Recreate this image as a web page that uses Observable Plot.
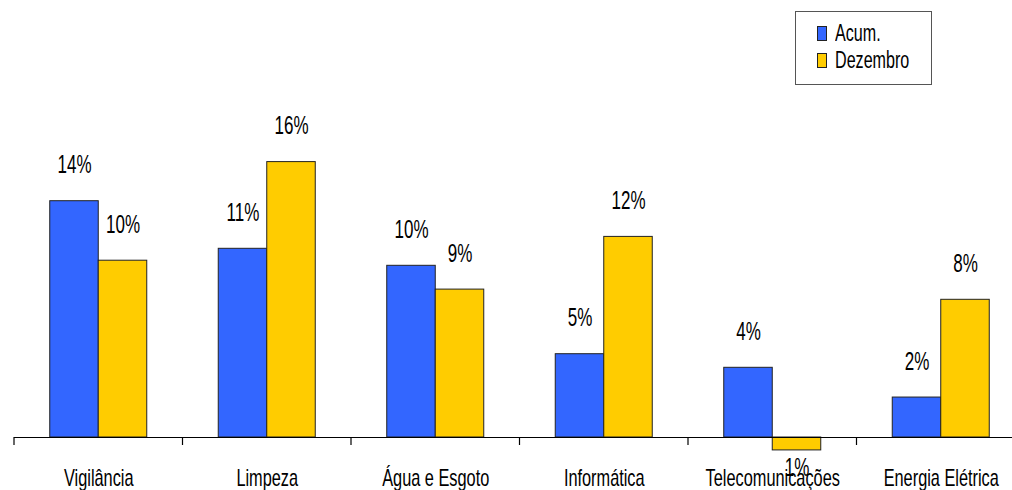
<!DOCTYPE html>
<html>
<head>
<meta charset="utf-8">
<script src="https://cdn.jsdelivr.net/npm/d3@7"></script>
<script src="https://cdn.jsdelivr.net/npm/@observablehq/plot@0.6"></script>
<style>
  body { margin: 0; background: #fff; }
  #wrap { position: relative; width: 1012px; height: 490px; font-family: "Liberation Sans", Arial, sans-serif; }
  #legend { position: absolute; left: 795px; top: 11px; width: 137px; height: 74px; border: 1px solid #555; background: #fff; box-sizing: border-box; }
  .item { position: absolute; left: 21px; height: 24px; display: flex; align-items: center; }
  .sw { width: 8px; height: 13px; border: 1px solid #222; margin-right: 8px; box-sizing: content-box; flex: none; }
  .lab { display: inline-block; font-size: 23px; line-height: 24px; color: #000; transform: scaleX(0.7); transform-origin: left center; white-space: nowrap; }
</style>
</head>
<body>
<div id="wrap"></div>
<script>
const categories = ["Vigilância", "Limpeza", "Água e Esgoto", "Informática", "Telecomunicações", "Energia Elétrica"];
const seriesNames = ["Acum.", "Dezembro"];
const acum = [13.9, 11.1, 10.1, 4.9, 4.1, 2.35];
const dezembro = [10.4, 16.2, 8.7, 11.8, -0.76, 8.1];
const colors = ["#3366FF", "#FFCC00"];

const data = [];
categories.forEach((c, i) => {
  data.push({category: c, series: seriesNames[0], value: acum[i]});
  data.push({category: c, series: seriesNames[1], value: dezembro[i]});
});
const fmt = v => Math.round(Math.abs(v)) + "%";
const font = "'Liberation Sans', Arial, sans-serif";

const plot = Plot.plot({
  width: 1012,
  height: 490,
  marginLeft: 14,
  marginRight: -13,
  marginTop: 12,
  marginBottom: 36,
  style: {fontFamily: font, background: "#fff", color: "#000"},
  fx: {domain: categories, padding: 0, label: null, round: false},
  x: {domain: seriesNames, paddingInner: 0, paddingOuter: 0.737, axis: null, round: false},
  y: {domain: [-1, 25], range: [454, 12], axis: null},
  color: {domain: seriesNames, range: colors},
  marks: [
    Plot.axisFx({anchor: "bottom", tickSize: 0, tickPadding: 14, fontSize: 24, label: null}),
    Plot.barY(data, {fx: "category", x: "series", y: "value", fill: "series", stroke: "#222", strokeWidth: 1}),
    Plot.ruleY([0], {stroke: "#000", strokeWidth: 1.2}),
    Plot.text(data.filter(d => d.value >= 0), {fx: "category", x: "series", y: "value", text: d => fmt(d.value), dy: -36, fontSize: 25, fill: "#000"}),
    Plot.text(data.filter(d => d.value < 0), {fx: "category", x: "series", y: "value", text: d => fmt(d.value), dy: 18, fontSize: 25, fill: "#000"})
  ]
});

// category boundary ticks below the baseline, placed through the plot's own scales
const fx = plot.scale("fx");
const y = plot.scale("y");
const y0 = y.apply(0);
const svg = d3.select(plot);
const g = svg.append("g").attr("stroke", "#000").attr("stroke-width", 1.2);
fx.domain.forEach(c => {
  const xx = fx.apply(c);
  g.append("line").attr("x1", xx).attr("x2", xx).attr("y1", y0).attr("y2", y0 + 8);
});

const wrap = document.getElementById("wrap");
wrap.appendChild(plot);

// condense the lettering (the reference uses a narrow face)
svg.selectAll("text").each(function() {
  const w = this.getComputedTextLength();
  if (w > 0) {
    this.setAttribute("textLength", (w * 0.68).toFixed(1));
    this.setAttribute("lengthAdjust", "spacingAndGlyphs");
  }
});

const legend = document.createElement("div");
legend.id = "legend";
seriesNames.forEach((s, i) => {
  const it = document.createElement("div");
  it.className = "item";
  it.style.top = (9 + i * 27) + "px";
  const sw = document.createElement("span");
  sw.className = "sw";
  sw.style.background = colors[i];
  it.appendChild(sw);
  const lab = document.createElement("span");
  lab.className = "lab";
  lab.textContent = s;
  it.appendChild(lab);
  legend.appendChild(it);
});
wrap.appendChild(legend);
</script>
</body>
</html>
